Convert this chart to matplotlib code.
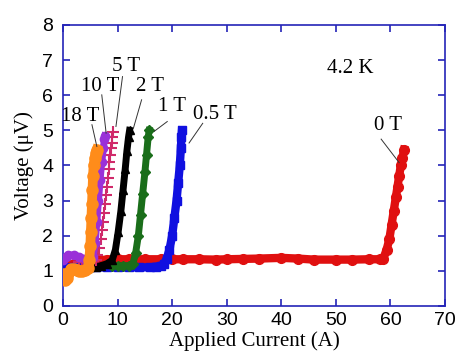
import matplotlib.pyplot as plt

# V-I curves at 4.2 K for several applied fields
x_0T = [0, 2, 4, 6, 8, 10, 12, 15, 18, 20, 22, 25, 28, 30, 33, 36, 40, 43, 46, 50, 53, 56, 58,
        58.7, 59.3, 59.8, 60.2, 60.6, 61.0, 61.3, 61.6, 61.9, 62.2, 62.5]
v_0T = [1.15, 1.2, 1.25, 1.3, 1.32, 1.33, 1.33, 1.33, 1.33, 1.33, 1.33, 1.33, 1.32, 1.33, 1.34, 1.35,
        1.37, 1.35, 1.32, 1.32, 1.32, 1.33, 1.33, 1.35, 1.6, 1.9, 2.3, 2.7, 3.1, 3.4, 3.7, 4.0, 4.2, 4.45]

x_05T = [0, 2, 4, 6, 8, 10, 12, 14, 16, 17, 18, 18.5, 19, 19.5, 20, 20.4, 20.8, 21.1, 21.4, 21.6, 21.7, 21.8]
v_05T = [1.1, 1.1, 1.1, 1.1, 1.1, 1.1, 1.1, 1.1, 1.1, 1.12, 1.15, 1.2, 1.35, 1.6, 2.0, 2.5, 3.0, 3.5,
         4.0, 4.5, 4.8, 5.0]

x_1T = [9, 10, 11, 12, 12.8, 13.3, 13.8, 14.2, 14.6, 15.0, 15.3, 15.6, 15.8]
v_1T = [1.15, 1.15, 1.15, 1.15, 1.2, 1.5, 2.0, 2.6, 3.2, 3.8, 4.3, 4.8, 5.0]

x_2T = [5, 6, 7, 8, 9, 9.6, 10.1, 10.6, 11.0, 11.4, 11.7, 12.0, 12.2]
v_2T = [1.1, 1.1, 1.15, 1.2, 1.3, 1.6, 2.1, 2.7, 3.3, 3.9, 4.4, 4.8, 5.0]

x_5T = [3, 3.5, 4, 4.5, 5, 5.5, 6, 6.3, 6.6, 6.9, 7.1, 7.3, 7.5, 7.7, 7.9, 8.05, 8.2, 8.35, 8.5, 8.65,
        8.8, 8.9, 9.0, 9.1]
v_5T = [1.25, 1.25, 1.25, 1.25, 1.25, 1.27, 1.3, 1.45, 1.65, 1.9, 2.15, 2.4, 2.65, 2.9, 3.15, 3.4,
        3.65, 3.9, 4.1, 4.3, 4.5, 4.65, 4.8, 4.95]

x_10T = [0, 0.5, 1, 2, 3, 4, 5, 5.5, 5.9, 6.2, 6.5, 6.8, 7.1, 7.4, 7.6, 7.7]
v_10T = [1.3, 1.4, 1.45, 1.45, 1.4, 1.35, 1.35, 1.4, 1.8, 2.4, 3.0, 3.6, 4.1, 4.5, 4.75, 4.85]

x_18T = [0, 0.3, 0.7, 1, 1.5, 2, 2.5, 3, 3.5, 4, 4.5, 4.8, 5.0, 5.1, 5.2, 5.3, 5.4, 5.5, 5.6, 5.8, 6.0, 6.2]
v_18T = [0.9, 0.75, 0.8, 0.95, 1.05, 1.05, 1.03, 1.0, 1.0, 1.02, 1.08, 1.3, 1.7, 2.1, 2.5, 2.9, 3.3,
         3.7, 4.0, 4.2, 4.35, 4.45]

# labels: text, text position, leader line start and end
labels = ["0 T", "0.5 T", "1 T", "2 T", "5 T", "10 T", "18 T"]
label_xy = [(59.6, 5.13), (27.9, 5.44), (19.9, 5.68), (15.9, 6.25), (11.5, 6.82), (6.8, 6.25), (3.1, 5.39)]
line_start = [(58.3, 4.75), (25.6, 5.2), (19.1, 5.25), (14.4, 5.87), (10.9, 6.53), (7.1, 6.01), (5.3, 5.16)]
line_end = [(61.6, 4.08), (23.1, 4.64), (16.7, 4.97), (12.9, 5.06), (9.7, 5.11), (7.9, 4.92), (6.2, 4.54)]

blue = "#2424b8"
serif = ["Liberation Serif", "DejaVu Serif"]
sans = ["Liberation Sans Narrow", "Liberation Sans", "DejaVu Sans"]

fig = plt.figure(figsize=(4.58, 3.58), dpi=100)
ax = fig.add_axes([0.1376, 0.1453, 0.834, 0.785])

ax.plot(x_0T, v_0T, color="#e01010", marker="o", ms=7, lw=6, zorder=2)
ax.plot(x_05T, v_05T, color="#1010e0", marker="s", ms=6, lw=6, zorder=3)
ax.plot(x_1T, v_1T, color="#1a6e1a", marker="D", ms=5.5, lw=5, zorder=4)
ax.plot(x_2T, v_2T, color="black", marker="^", ms=6, lw=5, zorder=5)
ax.plot(x_5T, v_5T, color="#d02a6a", marker="+", ms=8, mew=1.5, lw=0, zorder=6)
ax.plot(x_10T, v_10T, color="#9a30d8", marker="o", ms=6, lw=5, zorder=7)
ax.plot(x_18T, v_18T, color="#ff8c1a", marker="o", ms=8, lw=7, zorder=8)

for txt, pos, p0, p1 in zip(labels, label_xy, line_start, line_end):
    ax.text(pos[0], pos[1], txt, family=serif, fontsize=15, ha="center", va="center")
    ax.plot([p0[0], p1[0]], [p0[1], p1[1]], color="#333333", lw=0.7, zorder=9)

ax.text(52.6, 6.77, "4.2 K", family=serif, fontsize=15, ha="center", va="center")

ax.set_xlim(0, 70)
ax.set_ylim(0, 8)
ax.set_xticks(range(0, 71, 10))
ax.set_yticks(range(0, 9))
ax.set_xlabel("Applied Current (A)", family=serif, fontsize=15, labelpad=2)
ax.set_ylabel("Voltage (\u03bcV)", family=serif, fontsize=15, labelpad=6)

for s in ax.spines.values():
    s.set_color(blue)
    s.set_linewidth(1.2)
ax.tick_params(direction="in", top=True, right=True, length=5, width=1.2, color=blue,
               labelsize=14)
ax.tick_params(axis="x", pad=4)
ax.tick_params(axis="y", pad=7)
for lab in ax.get_xticklabels() + ax.get_yticklabels():
    lab.set_family(sans)

fig.savefig("out.png", dpi=100)
